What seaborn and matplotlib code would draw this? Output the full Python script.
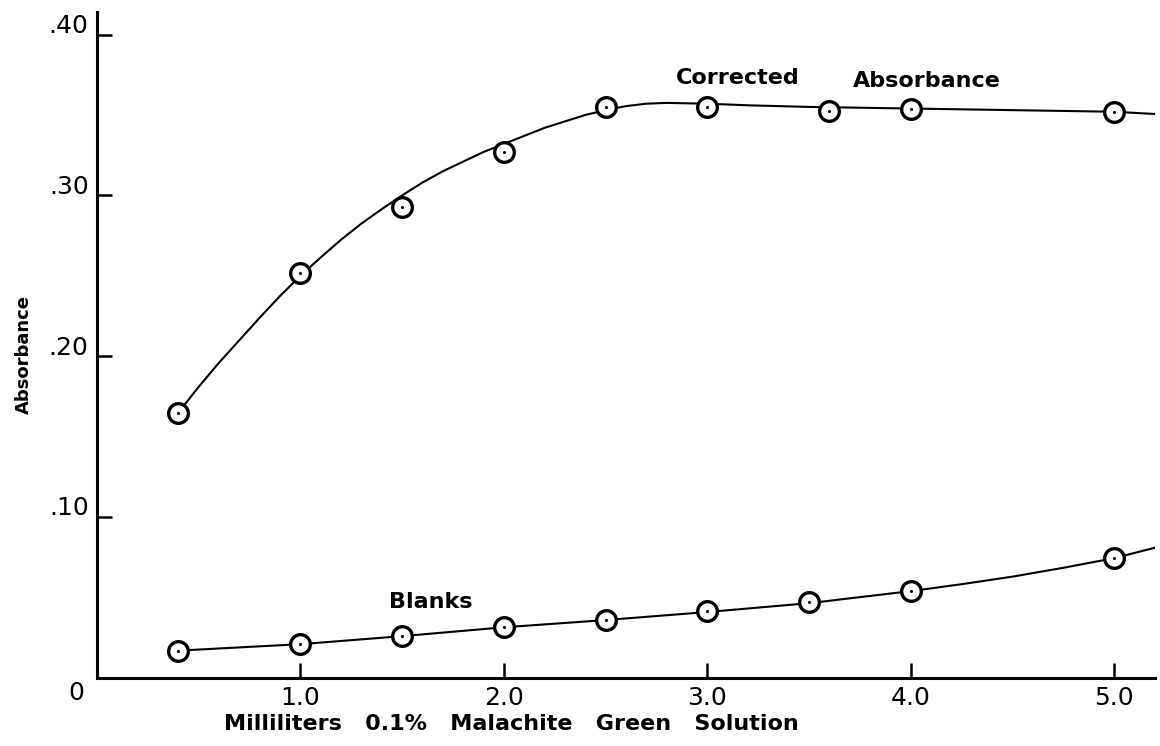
import matplotlib
matplotlib.use("Agg")
import matplotlib.pyplot as plt
import matplotlib.transforms as mtransforms
import seaborn as sns

sns.set_theme(style="white")
plt.rcParams['font.family'] = ['DejaVu Sans']
plt.rcParams['text.color'] = 'black'
plt.rcParams['axes.labelcolor'] = 'black'
plt.rcParams['xtick.color'] = 'black'
plt.rcParams['ytick.color'] = 'black'

# measured points
corr_x = [0.4, 1.0, 1.5, 2.0, 2.5, 3.0, 3.6, 4.0, 5.0]
corr_y = [0.165, 0.252, 0.293, 0.327, 0.355, 0.355, 0.3526, 0.3537, 0.3516]
blank_x = [0.4, 1.0, 1.5, 2.0, 2.5, 3.0, 3.5, 4.0, 5.0]
blank_y = [0.017, 0.021, 0.026, 0.0315, 0.036, 0.0415, 0.047, 0.054, 0.0745]

# hand-drawn fitted curves
corr_curve_x = [0.4, 0.5, 0.6, 0.7, 0.8, 0.9, 1.0, 1.1, 1.2, 1.3, 1.4, 1.5, 1.6, 1.7, 1.8,
                1.9, 2.0, 2.1, 2.2, 2.3, 2.4, 2.5, 2.6, 2.7, 2.8, 3.0, 3.2, 3.5, 4.0, 4.5, 5.0, 5.2]
corr_curve_y = [0.165, 0.181, 0.196, 0.210, 0.224, 0.2375, 0.250, 0.2615, 0.2725, 0.2825, 0.2915,
                0.300, 0.308, 0.315, 0.321, 0.327, 0.332, 0.337, 0.342, 0.346, 0.350, 0.353,
                0.3555, 0.357, 0.3575, 0.357, 0.356, 0.355, 0.354, 0.353, 0.352, 0.3506]
blank_curve_x = [0.4, 0.7, 1.0, 1.5, 2.0, 2.5, 3.0, 3.5, 4.0, 4.25, 4.5, 4.75, 5.0, 5.2]
blank_curve_y = [0.017, 0.019, 0.021, 0.026, 0.0315, 0.036, 0.041, 0.0465, 0.054, 0.0583,
                 0.063, 0.0685, 0.0745, 0.081]

x_ticks = [1.0, 2.0, 3.0, 4.0, 5.0]
x_tick_labels = ["1.0", "2.0", "3.0", "4.0", "5.0"]
y_ticks = [0.10, 0.20, 0.30, 0.40]
y_tick_labels = [".10", ".20", ".30", ".40"]

fig = plt.figure(figsize=(11.6, 7.46), dpi=100)
ax = fig.add_axes([0.0836, 0.0912, 0.9121, 0.8927])

for cx, cy in [(corr_curve_x, corr_curve_y), (blank_curve_x, blank_curve_y)]:
    sns.lineplot(x=cx, y=cy, ax=ax, color="black", linewidth=1.5, sort=False, zorder=2)

for px, py in [(corr_x, corr_y), (blank_x, blank_y)]:
    sns.scatterplot(x=px, y=py, ax=ax, marker="o", s=200, facecolor="white",
                    edgecolor="black", linewidth=2.4, zorder=3)
    sns.scatterplot(x=px, y=py, ax=ax, marker="o", s=5, color="black",
                    edgecolor="black", linewidth=0, zorder=4)

ax.set_xlim(0, 5.2)
ax.set_ylim(0, 0.414)

for side in ["top", "right"]:
    ax.spines[side].set_visible(False)
for side in ["left", "bottom"]:
    ax.spines[side].set_linewidth(2.2)
    ax.spines[side].set_color("black")

ax.set_xticks(x_ticks)
ax.set_xticklabels(x_tick_labels, fontsize=18)
ax.set_yticks(y_ticks)
ax.set_yticklabels(y_tick_labels, fontsize=18)
ax.tick_params(axis="both", which="major", direction="in", length=10.5, width=1.8,
               color="black", bottom=True, left=True)
ax.tick_params(axis="x", pad=6)
ax.tick_params(axis="y", pad=6)

# shift y tick labels upward slightly
off = mtransforms.ScaledTranslation(0, 8 / 72, fig.dpi_scale_trans)
for lab in ax.get_yticklabels():
    lab.set_transform(lab.get_transform() + off)

ax.annotate("0", xy=(0, 0), xycoords="data", xytext=(-15, -11),
            textcoords="offset points", ha="center", va="center", fontsize=18)

ax.set_xlabel("Milliliters   0.1%   Malachite   Green   Solution",
              fontsize=16, fontweight="bold")
ax.xaxis.set_label_coords(0.392, -0.054)
ax.set_ylabel("Absorbance", fontsize=13, fontweight="bold")
ax.yaxis.set_label_coords(-0.0605, 0.485)

ax.text(3.15, 0.373, "Corrected", ha="center", va="center", fontsize=16, fontweight="bold")
ax.text(4.08, 0.371, "Absorbance", ha="center", va="center", fontsize=16, fontweight="bold")
ax.text(1.64, 0.047, "Blanks", ha="center", va="center", fontsize=16, fontweight="bold")

fig.savefig("out.png", dpi=100, facecolor="white")
